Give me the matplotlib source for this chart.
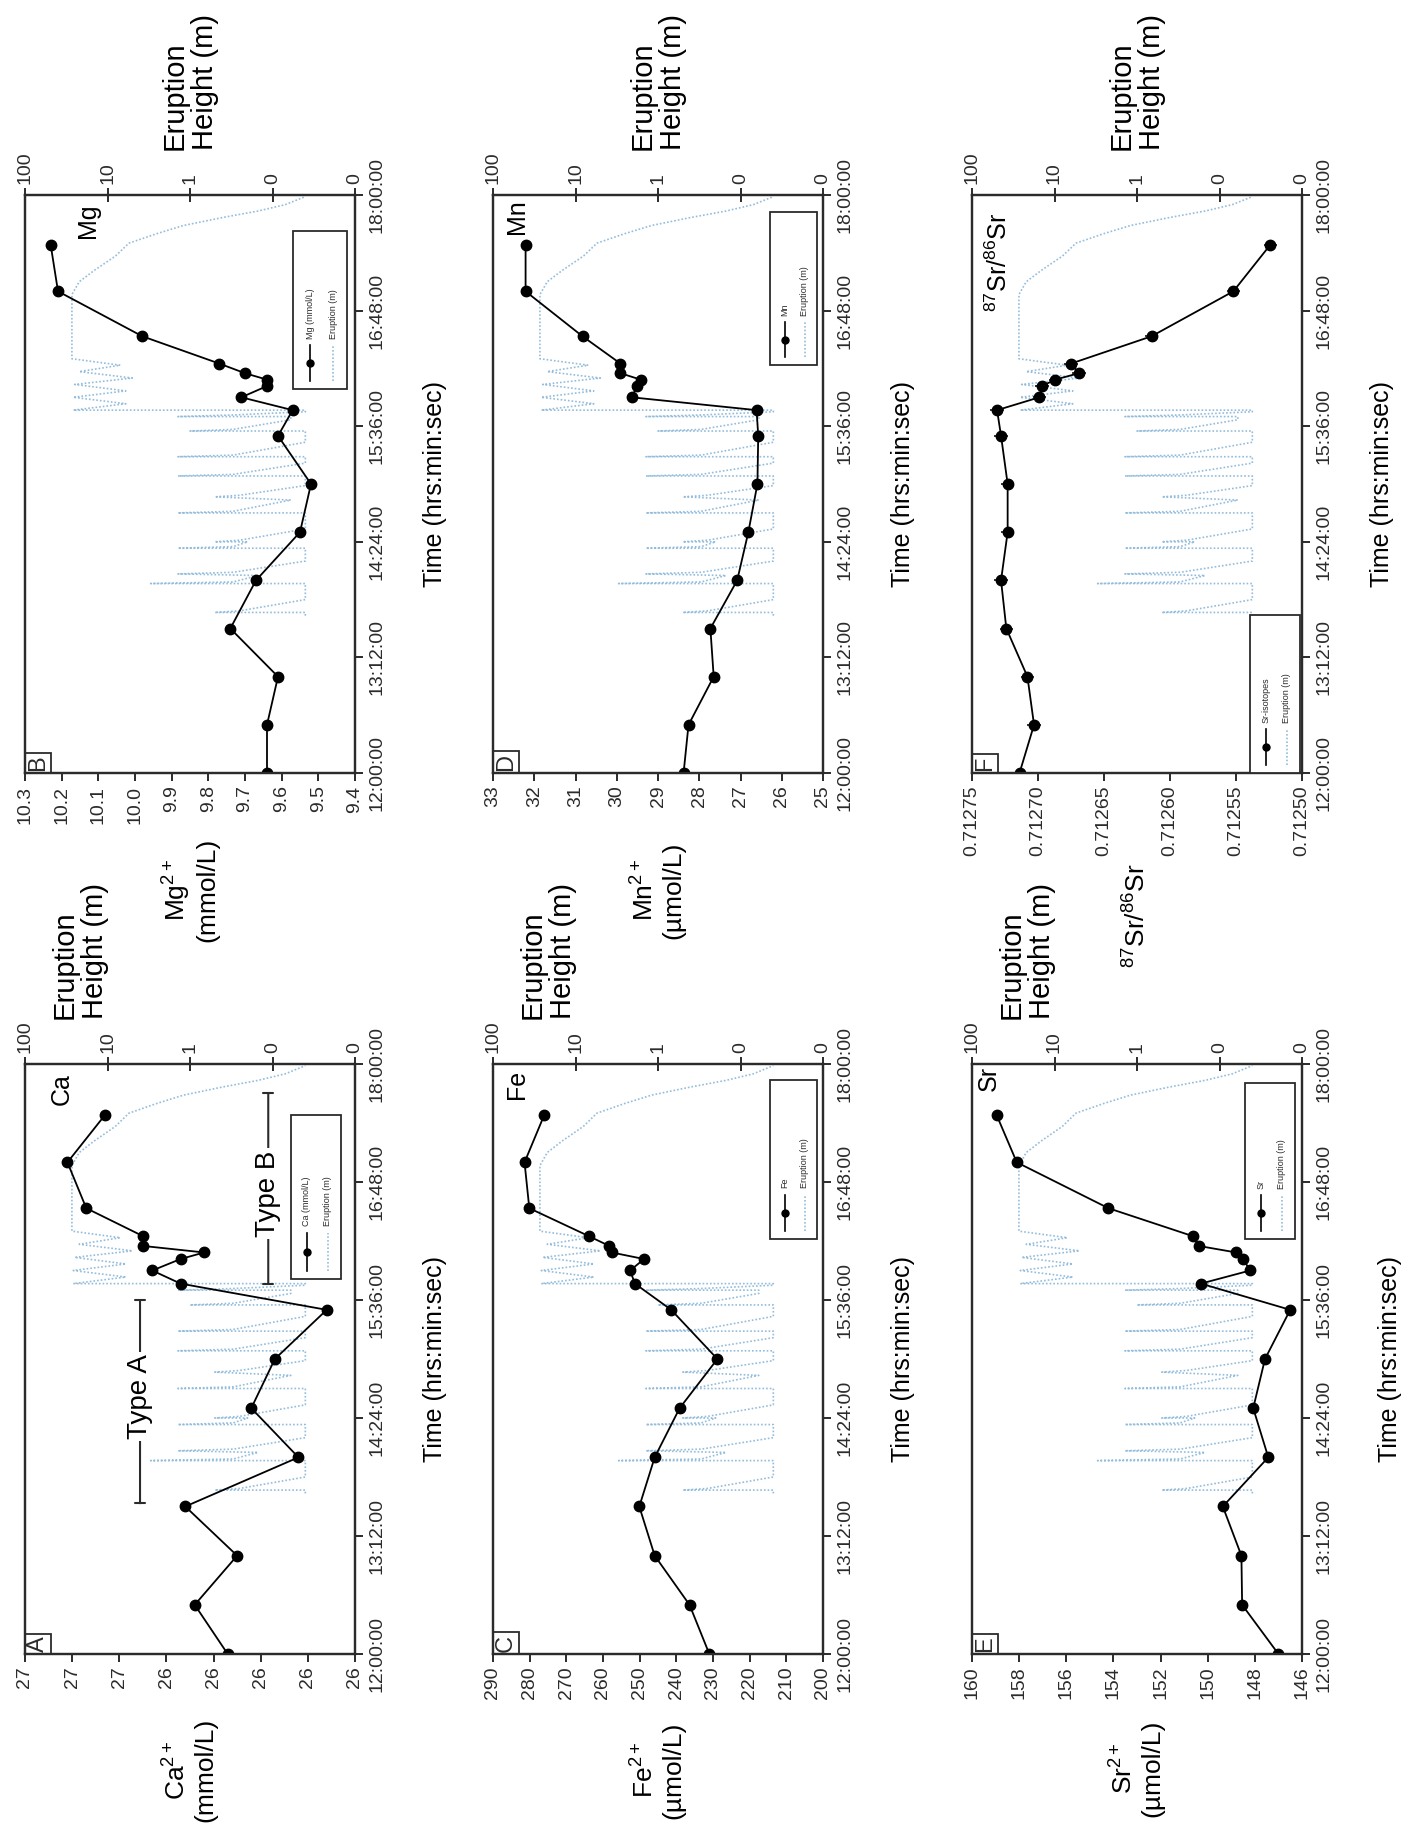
import matplotlib
matplotlib.use("Agg")
import matplotlib.pyplot as plt
from matplotlib.patches import Rectangle
from matplotlib.lines import Line2D
from matplotlib.ticker import NullLocator

plt.rcParams["font.family"] = ["Liberation Sans", "DejaVu Sans"]
plt.rcParams["mathtext.fontset"] = "custom"
plt.rcParams["mathtext.rm"] = "Liberation Sans"
plt.rcParams["mathtext.it"] = "Liberation Sans:italic"
plt.rcParams["mathtext.bf"] = "Liberation Sans:bold"
plt.rcParams["mathtext.default"] = "regular"

# ---------------- data ----------------
# sampling times, minutes after midnight
sample_min = [720, 750, 780, 810, 840, 870, 900, 930, 946, 954, 961, 965, 969, 975, 992, 1020, 1049]

ca = [26.27, 26.34, 26.25, 26.36, 26.12, 26.22, 26.17, 26.06, 26.37, 26.43,
      26.37, 26.32, 26.45, 26.45, 26.57, 26.61, 26.53]
mg = [9.64, 9.64, 9.61, 9.74, 9.67, 9.55, 9.52, 9.61, 9.57, 9.71,
      9.64, 9.64, 9.70, 9.77, 9.98, 10.21, 10.23]
fe = [231.0, 236.4, 245.9, 250.1, 245.9, 239.1, 228.8, 241.4, 251.3, 252.6,
      248.8, 257.6, 258.3, 263.9, 280.1, 281.4, 276.0]
mn = [28.38, 28.26, 27.65, 27.73, 27.08, 26.81, 26.59, 26.57, 26.61, 29.64,
      29.50, 29.42, 29.91, 29.91, 30.83, 32.21, 32.21]
sr = [147.0, 148.54, 148.57, 149.36, 147.43, 148.07, 147.57, 146.5, 150.29, 148.2,
      148.5, 148.79, 150.39, 150.64, 154.21, 158.1, 158.96]
sr_ratio = [0.712714, 0.712703, 0.712708, 0.712724, 0.712728, 0.712723, 0.712723,
            0.712728, 0.712731, 0.712699, 0.712697, 0.712687, 0.712669, 0.712675,
            0.712614, 0.712552, 0.712524]
sr_ratio_err = [0.000005, 0.000005, 0.000005, 0.000005, 0.000005, 0.000005, 0.000005,
                0.000005, 0.000005, 0.000005, 0.000005, 0.000005, 0.000005, 0.000005,
                0.000005, 0.000005, 0.000005]
sr_time_err = [3, 3, 3, 3, 3, 3, 3, 3, 3, 3, 3, 3, 3, 3, 3, 3, 3]

# geyser eruption height record (minutes after midnight, metres)
eruption_min = [818, 820, 820, 821, 828,
                838, 838, 839, 843, 844, 845, 852,
                860, 860, 861, 864, 864, 865, 872,
                882, 882, 883, 890, 892, 893, 899,
                905, 905, 906, 913,
                917, 917, 918, 926,
                933, 933, 934, 940,
                942, 942, 943, 945,
                946, 946, 950, 954, 958, 962, 966, 970, 974, 978, 1018, 1026,
                1033, 1042, 1050, 1056, 1061, 1066, 1070, 1074, 1079]
eruption_m = [0.04, 0.04, 0.5, 0.25, 0.04,
              0.04, 3.0, 0.3, 0.15, 1.4, 0.3, 0.04,
              0.04, 1.4, 0.3, 0.2, 0.5, 0.25, 0.04,
              0.04, 1.4, 0.3, 0.06, 0.5, 0.25, 0.04,
              0.04, 1.4, 0.3, 0.04,
              0.04, 1.4, 0.3, 0.04,
              0.04, 1.0, 0.3, 0.06,
              0.06, 1.4, 0.3, 0.04,
              0.04, 26, 6, 26, 6, 25, 5, 22, 7, 27, 27, 22,
              14.5, 8, 5.5, 2.5, 1.2, 0.4, 0.15, 0.07, 0.04]

time_ticks = [720, 792, 864, 936, 1008, 1080]
time_labels = ["12:00:00", "13:12:00", "14:24:00", "15:36:00", "16:48:00", "18:00:00"]
height_ticks = [100, 10, 1, 0.1, 0.01]
height_labels = ["100", "10", "1", "0", "0"]

ca_ticks = [26.7, 26.6, 26.5, 26.4, 26.3, 26.2, 26.1, 26.0]
ca_tick_labels = ["27", "27", "27", "26", "26", "26", "26", "26"]
mg_ticks = [10.3, 10.2, 10.1, 10.0, 9.9, 9.8, 9.7, 9.6, 9.5, 9.4]
mg_tick_labels = ["10.3", "10.2", "10.1", "10.0", "9.9", "9.8", "9.7", "9.6", "9.5", "9.4"]
fe_ticks = [290, 280, 270, 260, 250, 240, 230, 220, 210, 200]
fe_tick_labels = ["290", "280", "270", "260", "250", "240", "230", "220", "210", "200"]
mn_ticks = [33, 32, 31, 30, 29, 28, 27, 26, 25]
mn_tick_labels = ["33", "32", "31", "30", "29", "28", "27", "26", "25"]
sr_ticks = [160, 158, 156, 154, 152, 150, 148, 146]
sr_tick_labels = ["160", "158", "156", "154", "152", "150", "148", "146"]
ratio_ticks = [0.71275, 0.71270, 0.71265, 0.71260, 0.71255, 0.71250]
ratio_tick_labels = ["0.71275", "0.71270", "0.71265", "0.71260", "0.71255", "0.71250"]

# ---------------- layout ----------------
W, H = 1403, 1841
fig = plt.figure(figsize=(W / 100, H / 100), dpi=100)
INK = "#2b2b2b"
ERUPT = "#94bddc"
PANEL_W = 330


def fxy(x, y):
    return x / W, 1 - y / H


def rot_legend(ax, box, label):
    x0, y0, x1, y1 = box
    w, h = x1 - x0, y1 - y0
    ax.add_patch(Rectangle((x0, y0), w, h, transform=ax.transAxes, fc="white",
                           ec=INK, lw=1.3, zorder=8, clip_on=False))
    xa = x0 + 0.32 * w
    ax.add_line(Line2D([xa, xa], [y0 + 0.05 * h, y0 + 0.28 * h], transform=ax.transAxes,
                       color="black", lw=1.2, zorder=9, clip_on=False))
    ax.add_line(Line2D([xa], [y0 + 0.165 * h], transform=ax.transAxes, color="black",
                       marker="o", ms=5, ls="none", zorder=9, clip_on=False))
    ax.text(xa, y0 + 0.32 * h, label, transform=ax.transAxes, rotation=90,
            ha="center", va="bottom", fontsize=6.5, color=INK, zorder=9)
    xb = x0 + 0.74 * w
    ax.add_line(Line2D([xb, xb], [y0 + 0.05 * h, y0 + 0.28 * h], transform=ax.transAxes,
                       color=ERUPT, lw=1.2, ls=(0, (1, 1.2)), zorder=9, clip_on=False))
    ax.text(xb, y0 + 0.32 * h, "Eruption (m)", transform=ax.transAxes, rotation=90,
            ha="center", va="bottom", fontsize=6.5, color=INK, zorder=9)


panels = [
    dict(letter="A", elem="Ca", vals=ca, ticks=ca_ticks, tlabels=ca_tick_labels,
         vlim=(26.7, 26.0), left=25, top=1064, bottom=1654,
         vlabel="Ca$^{2+}$\n(mmol/L)", vlabel_y=1770, legend="Ca (mmol/L)",
         legbox=(0.805, 0.636, 0.957, 0.914), elem_pos=(0.075, 0.985), row="bottom"),
    dict(letter="B", elem="Mg", vals=mg, ticks=mg_ticks, tlabels=mg_tick_labels,
         vlim=(10.3, 9.4), left=25, top=195, bottom=773,
         vlabel="Mg$^{2+}$\n(mmol/L)", vlabel_y=890, legend="Mg (mmol/L)",
         legbox=(0.812, 0.664, 0.976, 0.938), elem_pos=(0.155, 0.985), row="top"),
    dict(letter="C", elem="Fe", vals=fe, ticks=fe_ticks, tlabels=fe_tick_labels,
         vlim=(290, 200), left=493, top=1064, bottom=1654,
         vlabel="Fe$^{2+}$\n(µmol/L)", vlabel_y=1770, legend="Fe",
         legbox=(0.838, 0.703, 0.982, 0.973), elem_pos=(0.035, 0.99), row="bottom"),
    dict(letter="D", elem="Mn", vals=mn, ticks=mn_ticks, tlabels=mn_tick_labels,
         vlim=(33, 25), left=493, top=195, bottom=773,
         vlabel="Mn$^{2+}$\n(µmol/L)", vlabel_y=890, legend="Mn",
         legbox=(0.838, 0.706, 0.982, 0.971), elem_pos=(0.035, 0.993), row="top"),
    dict(letter="E", elem="Sr", vals=sr, ticks=sr_ticks, tlabels=sr_tick_labels,
         vlim=(160, 146), left=972, top=1064, bottom=1654,
         vlabel="Sr$^{2+}$\n(µmol/L)", vlabel_y=1768, legend="Sr",
         legbox=(0.826, 0.703, 0.979, 0.968), elem_pos=(0.015, 0.997), row="bottom"),
    dict(letter="F", elem="$^{87}$Sr/$^{86}$Sr", vals=sr_ratio, ticks=ratio_ticks,
         tlabels=ratio_tick_labels, vlim=(0.71275, 0.71250), left=972, top=195, bottom=773,
         vlabel="$^{87}$Sr/$^{86}$Sr", vlabel_y=916, legend="Sr-isotopes",
         legbox=(0.841, 0.0, 0.994, 0.273), elem_pos=(0.04, 0.97), row="top"),
]

for p in panels:
    left, top, bottom = p["left"], p["top"], p["bottom"]
    ax = fig.add_axes([left / W, 1 - bottom / H, PANEL_W / W, (bottom - top) / H])
    ax2 = ax.twiny()
    ax.set_zorder(2)
    ax2.set_zorder(1)
    ax.patch.set_visible(False)

    # eruption height on the log axis along the top
    ax2.plot(eruption_m, eruption_min, color=ERUPT, lw=1.2, ls=(0, (1, 1.2)))
    ax2.set_xscale("log")
    ax2.set_xlim(100, 0.01)
    ax2.set_xticks(height_ticks)
    ax2.set_xticklabels(height_labels, rotation=90, fontsize=14, color=INK)
    ax2.xaxis.set_minor_locator(NullLocator())
    ax2.tick_params(axis="x", which="major", direction="inout", length=10,
                    width=1.4, color=INK, pad=3)

    # chemistry series
    if p["letter"] == "F":
        ax.errorbar(p["vals"], sample_min, xerr=sr_ratio_err, yerr=sr_time_err,
                    fmt="-o", color="black", ms=7.5, lw=1.3, elinewidth=1.1, capsize=0)
    else:
        ax.plot(p["vals"], sample_min, "-o", color="black", ms=7.5, lw=1.3)

    ax.set_xlim(*p["vlim"])
    ax.set_ylim(720, 1080)
    ax.set_xticks(p["ticks"])
    ax.set_xticklabels(p["tlabels"], rotation=90, fontsize=14, color=INK)
    ax.tick_params(axis="x", direction="out", length=6, width=1.4, color=INK, pad=3)
    ax.yaxis.tick_right()
    ax.set_yticks(time_ticks)
    ax.set_yticklabels(time_labels, rotation=90, va="center", fontsize=14, color=INK)
    ax.tick_params(axis="y", direction="out", length=6, width=1.4, color=INK, pad=4)

    for a in (ax, ax2):
        for s in a.spines.values():
            s.set_color(INK)
            s.set_linewidth(1.6)

    # panel letter and element name
    ax.text(0.006, 0.004, p["letter"], transform=ax.transAxes, rotation=90,
            ha="left", va="bottom", fontsize=17, color=INK, zorder=10,
            bbox=dict(boxstyle="square,pad=0.1", fc="none", ec=INK, lw=1.3))
    ex, ey = p["elem_pos"]
    ax.text(ex, ey, p["elem"], transform=ax.transAxes, rotation=90, ha="left",
            va="top", fontsize=18, color="black", zorder=10)

    rot_legend(ax, p["legbox"], p["legend"])

    # axis titles
    cx = left + PANEL_W / 2
    fig.text(*fxy(cx, p["vlabel_y"]), p["vlabel"], rotation=90, ha="center",
             va="center", ma="center", fontsize=19, color="black", linespacing=1.15)
    tx = left + PANEL_W + (88 if p["letter"] == "E" else 80)
    fig.text(*fxy(tx, (top + bottom) / 2), "Time (hrs:min:sec)", rotation=90,
             ha="center", va="center", fontsize=18, color="black")
    if p["row"] == "top":
        ex_px, ey_px = cx, 150
    else:
        ex_px, ey_px = left + 55, 1019
    fig.text(*fxy(ex_px, ey_px), "Eruption\nHeight (m)", rotation=90, ha="center",
             va="bottom", ma="left", fontsize=21, color="black", linespacing=1.1)

# Type A / Type B eruption phases in the calcium panel
ax_ca = fig.axes[0]
for v, t0, t1, tc, name in [(26.456, 812, 936, 877, "Type A"),
                             (26.184, 946, 1062, 1001, "Type B")]:
    ax_ca.annotate("", xy=(v, t0), xytext=(v, t1),
                   arrowprops=dict(arrowstyle="|-|,widthA=0.35,widthB=0.35",
                                   lw=1.5, color=INK, shrinkA=0, shrinkB=0))
    ax_ca.text(v, tc, name, rotation=90, ha="center", va="center", fontsize=20,
               color="black", zorder=6,
               bbox=dict(fc="white", ec="none", pad=1.5))

fig.savefig("out.png", dpi=100, facecolor="white")
